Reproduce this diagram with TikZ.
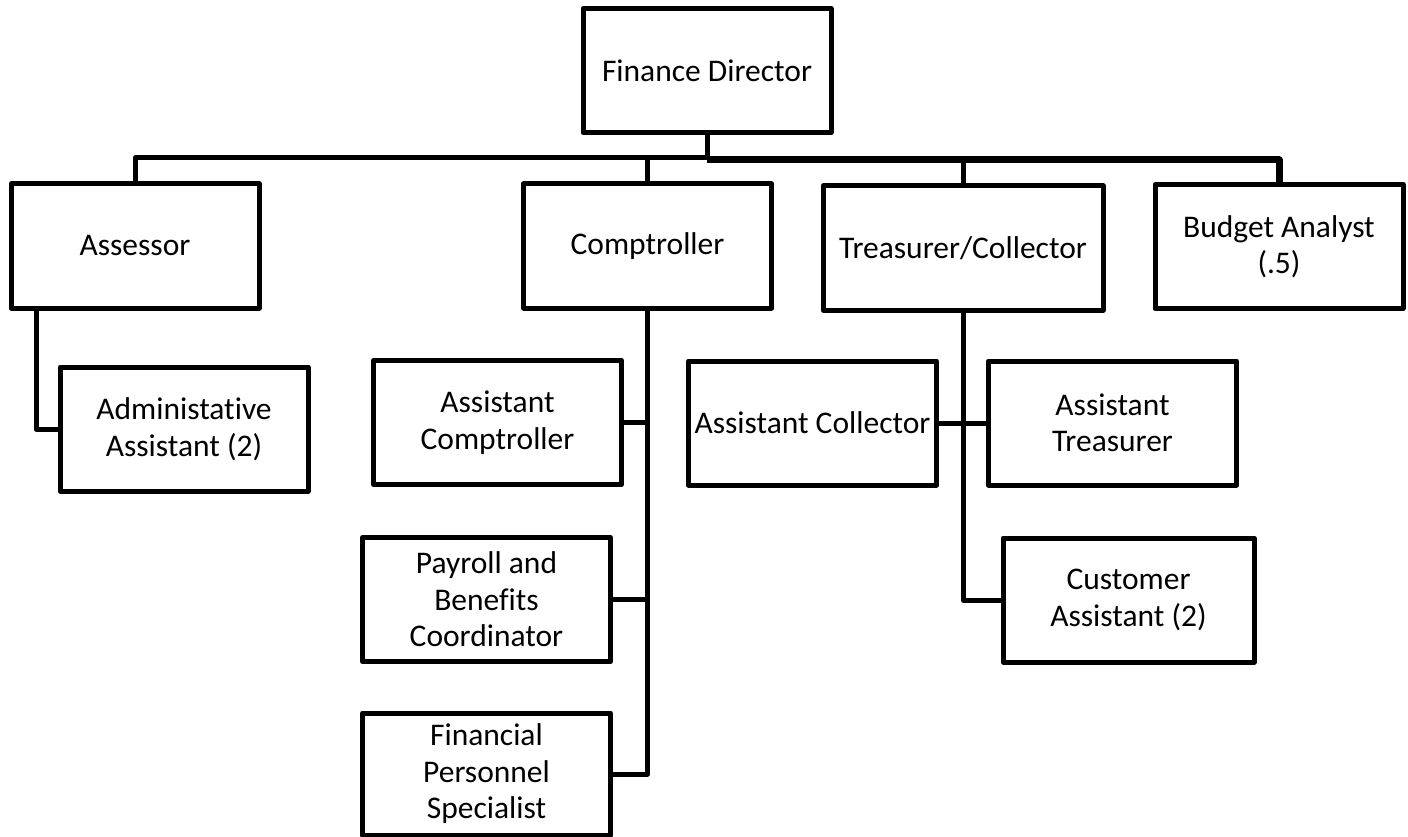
\documentclass[tikz,border=0pt]{standalone}
\usepackage{fontspec}
\setmainfont{Carlito}[Ligatures=NoCommon]
\begin{document}
\begin{tikzpicture}[x=1pt,y=-1pt,
  box/.style={draw=black, line width=5pt, line join=round, rectangle,
    inner sep=0pt, minimum width=248pt, minimum height=124pt,
    align=center, font=\fontsize{31.5}{36.5}\selectfont},
  conn/.style={draw=black, line width=5pt, line join=round}]
\useasboundingbox (0,0) rectangle (1408,837);

% positions
\node[box] (fd) at (707,70.5) {Finance Director};
\node[box] (ass) at (135,246) {Assessor};
\node[box] (comp) at (647.5,246) {Comptroller};
\node[box, minimum width=280pt] (tre) at (963,248) {Treasurer/Collector};
\node[box] (bud) at (1279,246.5) {Budget Analyst\\(.5)};
\node[box] (adm) at (184,429) {Administative\\Assistant (2)};
\node[box] (acomp) at (497.5,422.5) {Assistant\\Comptroller};
\node[box] (acoll) at (812.5,423) {Assistant Collector};
\node[box] (atre) at (1112.5,423) {Assistant\\Treasurer};
\node[box] (pay) at (486.5,599.5) {Payroll and\\Benefits\\Coordinator};
\node[box, minimum height=122pt] (fin) at (486.5,774) {Financial\\Personnel\\Specialist};
\node[box, minimum width=251pt] (cust) at (1128.5,600) {Customer\\Assistant (2)};

% top-level bus
\coordinate (busL) at (707,158);
\coordinate (busR) at (707,160);
\draw[conn] (fd.south) -- (busR);
\draw[conn] (ass.north) |- (busL);
\draw[conn] (comp.north) -- (comp.north |- busL);
\draw[conn, line width=7pt] (bud.north) |- (busR);
\draw[conn] (tre.north) -- (tre.north |- busR);

% assessor branch
\draw[conn] ([xshift=27.5pt]ass.south west) |- (adm.west);

% comptroller branch
\draw[conn] (comp.south) |- (fin.east);
\draw[conn] (acomp.east) -- (acomp.east -| comp.south);
\draw[conn] (pay.east) -- (pay.east -| comp.south);

% treasurer branch
\draw[conn] (tre.south) |- (cust.west);
\draw[conn] (acoll.east) -- (atre.west);
\end{tikzpicture}
\end{document}
